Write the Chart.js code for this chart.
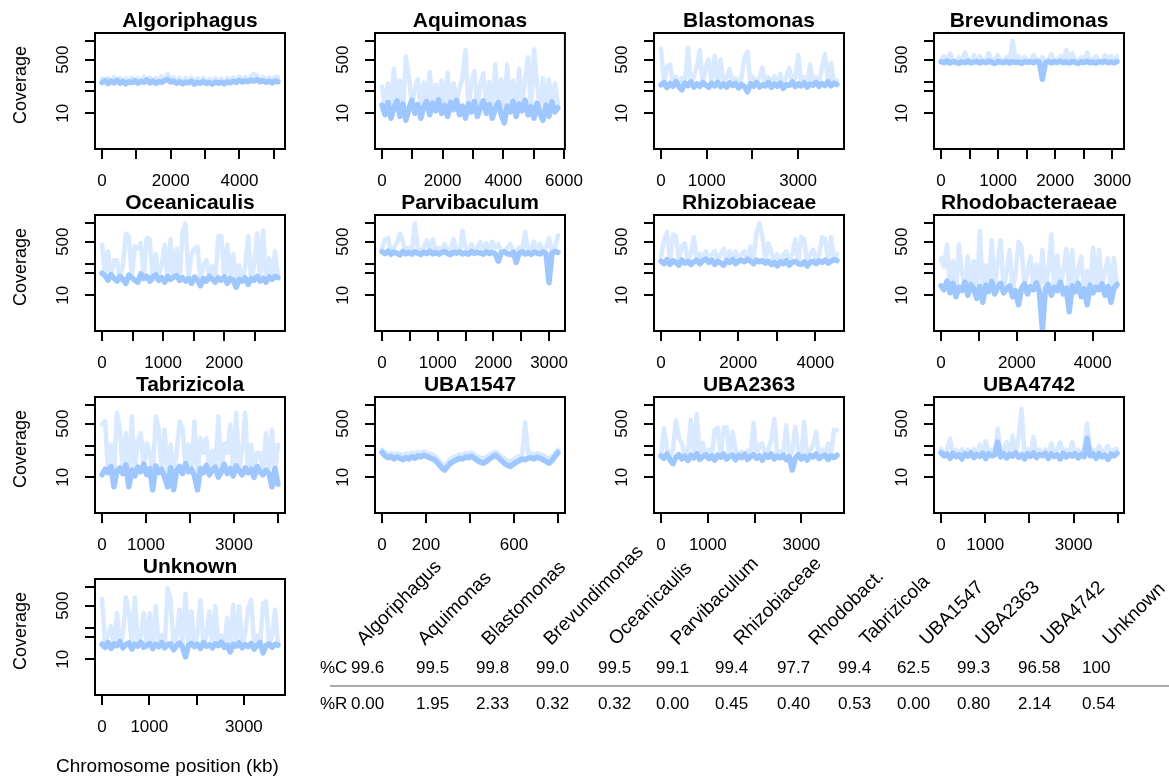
<!DOCTYPE html>
<html>
<head>
<meta charset="utf-8">
<script src="https://cdn.jsdelivr.net/npm/chart.js@4.4.1/dist/chart.umd.min.js"></script>
<style>
body { margin: 0; background: #fff; }
#page { position: relative; width: 1169px; height: 776px; overflow: hidden; background: #fff;
        font-family: "Liberation Sans", Arial, Helvetica, sans-serif; color: #000; }
canvas { position: absolute; }
.ttl { position: absolute; width: 300px; text-align: center; font-weight: bold; font-size: 21px; line-height: 22px; white-space: nowrap; }
.ylab { position: absolute; font-size: 18px; line-height: 20px; white-space: nowrap; transform: translate(-50%, -50%) rotate(-90deg); }
.num { position: absolute; font-size: 17px; line-height: 20px; white-space: nowrap; }
.tax { position: absolute; font-size: 19px; line-height: 19px; white-space: nowrap; transform-origin: 0 100%; transform: rotate(-45deg); }
.rule { position: absolute; left: 330px; width: 839px; top: 685px; height: 2px; background: #aaa; }
.xlab { position: absolute; left: 56px; top: 755px; font-size: 19px; line-height: 22px; white-space: nowrap; }
</style>
</head>
<body>
<div id="page"></div>
<script>
"use strict";

// Coverage along each chromosome, one panel per taxon (log y)

const taxa = ["Algoriphagus", "Aquimonas", "Blastomonas", "Brevundimonas",
              "Oceanicaulis", "Parvibaculum", "Rhizobiaceae", "Rhodobacteraeae",
              "Tabrizicola", "UBA1547", "UBA2363", "UBA4742", "Unknown"];
const genomeKb = [5120, 5800, 3850, 3080, 2880, 3160, 4560, 4640, 4000, 800, 3760, 3980, 3720];

const xTicks = [
    [0, 1000, 2000, 3000, 4000, 5000],
    [0, 1000, 2000, 3000, 4000, 5000, 6000],
    [0, 1000, 2000, 3000],
    [0, 500, 1000, 1500, 2000, 2500, 3000],
    [0, 500, 1000, 1500, 2000, 2500],
    [0, 500, 1000, 1500, 2000, 2500, 3000],
    [0, 1000, 2000, 3000, 4000],
    [0, 1000, 2000, 3000, 4000],
    [0, 1000, 2000, 3000, 4000],
    [0, 200, 400, 600, 800],
    [0, 1000, 2000, 3000],
    [0, 1000, 2000, 3000, 4000],
    [0, 1000, 2000, 3000]
];
const xTickLabels = [
    [0, 2000, 4000], [0, 2000, 4000, 6000], [0, 1000, 3000], [0, 1000, 2000, 3000],
    [0, 1000, 2000], [0, 1000, 2000, 3000], [0, 2000, 4000], [0, 2000, 4000],
    [0, 1000, 3000], [0, 200, 600], [0, 1000, 3000], [0, 1000, 3000], [0, 1000, 3000]
];
const yTicks = [10, 50, 100, 500, 2000];
const yTickLabels = [10, 500];

// window coverage: "Mean" = main band, "Max" = pale peaks
const algoriphagusMean = [95,110,88,105,92,112,90,104,86,100,94,108,90,102,96,114,92,106,88,100,96,110,118,98,104,90,100,86,98,92,104,84,96,90,102,88,94,84,98,90,96,86,100,92,104,96,110,98,106,100,114,104,118,100,108,96,104,92,106,100];
const algoriphagusMax = [125,100,130,98,140,102,130,95,128,100,135,98,130,104,145,100,138,96,132,102,150,110,175,104,138,96,132,92,130,96,135,90,128,94,132,92,126,90,130,94,128,92,132,98,138,102,145,104,142,106,155,175,160,106,145,100,140,98,142,138];

const aquimonasMean = [18,9,22,7,15,25,8,20,6,14,26,10,19,7,16,24,9,21,12,27,10,18,8,22,13,26,9,17,7,20,11,24,8,15,25,10,19,7,14,22,9,5,17,11,24,8,20,12,26,9,16,7,21,10,6,18,8,23,11,15];
const aquimonasMax = [70,15,90,12,260,20,110,14,630,150,18,60,120,12,95,25,200,14,80,22,110,16,190,12,90,25,60,140,1000,15,95,220,14,85,190,16,100,12,350,20,120,10,350,18,110,12,260,20,120,600,12,1050,85,15,130,10,115,18,90,20];

const blastomonasMean = [80,95,65,88,72,100,70,55,90,75,98,68,85,72,95,78,66,90,74,96,70,84,68,92,76,88,64,82,70,48,86,72,94,68,80,74,96,66,84,72,90,62,80,76,98,70,86,74,92,68,84,78,96,72,88,76,100,74,90,82];
const blastomonasMax = [1100,90,300,350,85,140,80,130,90,1200,85,140,300,1000,80,300,500,90,650,85,500,80,140,250,85,130,75,140,600,900,85,140,90,130,280,80,140,85,150,80,180,75,140,280,90,130,700,85,140,80,350,85,140,80,300,750,90,400,85,110];

const brevundimonasMean = [430,400,450,390,440,410,380,430,400,450,395,420,440,390,430,400,450,410,380,430,420,400,445,390,435,405,420,380,440,410,430,400,445,415,120,400,440,395,430,410,450,400,425,390,440,410,380,430,405,445,400,420,390,435,410,445,400,430,395,440];
const brevundimonasMax = [480,650,430,800,500,440,600,450,850,500,440,700,490,650,440,500,800,450,480,700,440,500,600,440,2000,460,650,430,600,480,440,700,500,450,600,430,480,750,440,500,650,450,1000,430,800,460,440,600,480,850,440,500,650,430,470,700,450,650,440,650];

const oceanicaulisMean = [50,42,30,45,35,28,40,32,24,44,36,30,26,48,34,40,28,38,44,30,36,26,40,32,38,42,30,36,28,34,24,38,30,20,34,28,40,32,26,36,30,38,24,34,30,18,32,28,36,22,34,30,40,28,34,26,38,32,40,36];
const oceanicaulisMax = [400,40,250,35,130,130,30,90,900,750,35,350,300,450,35,650,600,30,200,40,90,400,30,600,35,300,28,1000,1900,35,200,300,350,30,90,130,35,85,30,750,750,35,400,30,200,25,90,30,80,750,30,90,900,35,1100,30,150,35,250,40];

const parvibaculumMean = [240,210,250,200,235,215,190,245,205,230,200,240,215,195,235,210,250,205,230,200,225,245,210,195,235,215,240,205,220,200,245,210,230,215,200,240,210,230,205,120,225,240,210,195,230,110,215,240,205,225,200,235,215,205,240,210,25,220,245,230];
const parvibaculumMax = [300,600,650,230,320,450,900,500,230,320,240,1900,320,230,330,550,240,600,230,320,240,420,230,320,600,240,230,1100,320,240,420,230,330,480,240,450,230,500,320,420,240,230,320,420,240,230,330,240,1000,230,320,500,240,420,230,320,650,240,300,800];

const rhizobiaceaeMean = [120,100,135,95,125,110,90,130,105,120,95,115,130,100,125,140,110,130,95,120,105,90,125,110,135,100,120,130,115,140,120,100,130,115,125,105,120,95,110,85,115,100,125,90,110,120,100,95,115,85,110,120,100,125,110,130,105,120,135,125];
const rhizobiaceaeMax = [170,550,1000,120,850,750,130,350,450,120,200,700,125,210,120,250,130,200,250,120,200,300,125,250,130,250,120,200,250,130,350,120,1000,1900,700,125,450,230,120,200,110,190,250,120,200,600,115,700,600,110,200,280,120,190,700,600,125,700,140,200];

const rhodobacteraeaeMean = [20,15,28,12,24,9,18,14,26,10,22,16,8,19,6,21,13,27,11,18,24,12,16,20,9,14,5,17,23,11,19,15,25,12,0.8,16,22,10,18,14,26,11,17,3,20,13,24,9,16,5,21,12,18,15,23,10,19,6,17,22];
const rhodobacteraeaeMax = [150,80,400,15,120,12,400,55,18,170,15,120,12,1100,20,90,15,550,14,120,550,15,60,270,14,50,500,350,18,60,170,15,95,14,270,18,60,850,15,180,20,60,300,14,270,15,60,170,12,60,18,320,14,270,18,60,150,12,150,18];

const tabrizicolaMean = [12,18,14,22,5,16,20,13,25,5,17,11,21,15,26,12,19,4,23,14,18,10,5,20,4,16,22,13,27,15,18,11,4,19,14,24,12,17,21,10,15,26,13,19,11,23,16,12,20,14,18,10,22,15,12,17,13,5,19,6];
const tabrizicolaMax = [470,590,18,107,12,1100,320,15,250,12,850,14,137,250,16,120,60,10,850,365,18,320,12,107,10,60,590,365,20,107,15,590,12,175,60,175,14,70,16,850,12,120,60,470,14,1100,18,70,1100,14,107,16,60,58,14,250,18,320,15,107];

const uba1547Mean = [62,48,42,46,38,44,40,36,42,38,45,40,48,44,50,46,42,38,34,26,20,17,22,28,32,36,40,38,44,42,46,40,34,30,28,32,38,44,50,42,34,28,24,22,26,30,34,38,36,40,42,38,44,40,36,32,28,34,46,60];
const uba1547Max = [75,62,55,60,52,58,54,50,56,52,60,54,64,58,66,60,56,52,46,36,28,24,30,38,44,48,54,52,58,56,62,54,46,42,40,44,52,58,66,56,46,40,34,32,36,42,46,52,550,56,58,52,58,54,50,44,40,46,60,75];

const uba2363Mean = [48,40,55,36,27,44,52,38,47,34,50,41,56,37,45,52,39,48,35,50,43,55,38,46,51,36,49,42,54,37,46,52,40,48,35,51,43,55,38,47,41,50,36,45,17,40,52,38,47,35,49,44,55,39,46,51,37,48,42,50];
const uba2363Max = [50,350,81,45,75,640,170,118,45,65,660,50,1000,45,125,45,75,40,320,375,48,375,375,45,275,72,45,65,45,70,40,530,48,105,118,42,75,160,710,45,65,50,445,45,65,390,70,45,565,42,70,105,275,45,75,48,118,50,320,310];

const uba4742Mean = [60,48,55,40,58,45,52,38,56,47,60,42,53,46,58,39,55,48,51,130,44,57,41,54,47,60,43,52,38,56,46,59,42,53,48,57,40,55,45,51,38,58,44,53,47,56,41,52,45,170,48,55,40,57,44,51,37,54,48,58];
const uba4742Max = [80,55,75,170,50,75,48,78,55,75,50,80,48,110,55,140,50,75,52,350,48,75,130,50,210,55,180,1480,50,78,48,190,55,75,50,78,45,120,52,75,125,50,75,48,135,52,75,50,80,500,52,75,48,100,55,75,100,50,75,80];

const unknownMean = [30,24,34,22,31,27,36,23,29,33,21,30,26,35,24,28,32,22,30,25,34,23,29,31,20,27,33,24,12,28,32,25,30,22,34,26,29,23,31,27,35,24,28,17,30,26,33,23,29,25,32,21,28,34,16,27,31,24,30,28];
const unknownMax = [810,30,55,112,25,295,30,60,930,295,28,930,30,55,295,25,295,30,475,28,60,25,1800,775,28,55,375,25,1190,30,330,28,60,740,30,55,330,25,475,30,55,28,205,25,535,30,475,28,60,425,775,30,55,25,600,675,30,55,375,30];

const meanSeries = [algoriphagusMean, aquimonasMean, blastomonasMean, brevundimonasMean,
                    oceanicaulisMean, parvibaculumMean, rhizobiaceaeMean, rhodobacteraeaeMean,
                    tabrizicolaMean, uba1547Mean, uba2363Mean, uba4742Mean, unknownMean];
const maxSeries = [algoriphagusMax, aquimonasMax, blastomonasMax, brevundimonasMax,
                   oceanicaulisMax, parvibaculumMax, rhizobiaceaeMax, rhodobacteraeaeMax,
                   tabrizicolaMax, uba1547Max, uba2363Max, uba4742Max, unknownMax];

// summary table under the panels
const tableNames = ["Algoriphagus", "Aquimonas", "Blastomonas", "Brevundimonas", "Oceanicaulis",
                    "Parvibaculum", "Rhizobiaceae", "Rhodobact.", "Tabrizicola", "UBA1547",
                    "UBA2363", "UBA4742", "Unknown"];
const pctC = ["99.6", "99.5", "99.8", "99.0", "99.5", "99.1", "99.4", "97.7", "99.4", "62.5", "99.3", "96.58", "100"];
const pctR = ["0.00", "1.95", "2.33", "0.32", "0.32", "0.00", "0.45", "0.40", "0.53", "0.00", "0.80", "2.14", "0.54"];


const FONT = '"Liberation Sans", Arial, Helvetica, sans-serif';
const boxLeft = [95, 375, 654, 934];
const boxTop = [33, 215, 397, 579];
const BOX_W = 190, BOX_H = 116;
const page = document.getElementById("page");

function addDiv(cls, text, left, top) {
    let d = document.createElement("div");
    d.className = cls;
    d.textContent = text;
    d.style.left = left + "px";
    d.style.top = top + "px";
    page.appendChild(d);
    return d;
}

const boxBorder = {
    id: "boxBorder",
    afterDraw(chart) {
        let a = chart.chartArea;
        let ctx = chart.ctx;
        ctx.save();
        ctx.strokeStyle = "#000";
        ctx.lineWidth = 2;
        ctx.strokeRect(a.left, a.top, a.right - a.left, a.bottom - a.top);
        ctx.restore();
    }
};

function toPoints(arr, len) {
    return arr.map((v, i) => ({x: i * len / (arr.length - 1), y: v}));
}

taxa.forEach(function(name, p) {
    let col = p % 4, row = Math.floor(p / 4);
    let bx = boxLeft[col], by = boxTop[row];
    let len = genomeKb[p];

    let cv = document.createElement("canvas");
    cv.width = 290; cv.height = 186;
    cv.style.width = "290px"; cv.style.height = "186px";
    cv.style.left = (bx - 70) + "px";
    cv.style.top = (by - 20) + "px";
    page.appendChild(cv);

    addDiv("ttl", name, bx + BOX_W / 2 - 150, by - 24);
    if (col === 0) {
        addDiv("ylab", "Coverage", 20, by + BOX_H / 2 - 6);
    }

    let tickFont = {family: FONT, size: 17};
    new Chart(cv, {
        type: "line",
        data: {
            datasets: [
                {data: toPoints(meanSeries[p], len), borderColor: "rgb(158,199,255)", borderWidth: 5.5,
                 pointRadius: 0, borderJoinStyle: "round", borderCapStyle: "round", order: 0},
                {data: toPoints(maxSeries[p], len), borderColor: "rgba(160,200,255,0.4)", borderWidth: 4.5,
                 pointRadius: 0, borderJoinStyle: "round", borderCapStyle: "round", order: 1}
            ]
        },
        options: {
            responsive: false,
            animation: false,
            devicePixelRatio: 1,
            events: [],
            layout: {padding: {left: 10, top: 20, right: 30, bottom: 0}},
            plugins: {legend: {display: false}, tooltip: {enabled: false}},
            scales: {
                x: {
                    type: "linear",
                    bounds: "data",
                    min: -0.04 * len,
                    max: 1.04 * len,
                    afterBuildTicks: s => { s.ticks = xTicks[p].map(v => ({value: v})); },
                    afterFit: s => { s.height = 50; },
                    border: {display: false},
                    grid: {drawOnChartArea: false, drawTicks: true, tickLength: 10, color: "#000", lineWidth: 2},
                    ticks: {
                        autoSkip: false, maxRotation: 0, color: "#000", font: tickFont, padding: 12,
                        callback: v => xTickLabels[p].includes(v) ? String(v) : ""
                    }
                },
                y: {
                    type: "logarithmic",
                    bounds: "data",
                    min: 0.74,
                    max: 3500,
                    afterBuildTicks: s => { s.ticks = yTicks.map(v => ({value: v})); },
                    afterFit: s => { s.width = 60; },
                    border: {display: false},
                    grid: {drawOnChartArea: false, drawTicks: true, tickLength: 10, color: "#000", lineWidth: 2},
                    ticks: {
                        autoSkip: false, minRotation: 90, maxRotation: 90, crossAlign: "center",
                        color: "#000", font: tickFont, padding: 8,
                        callback: v => yTickLabels.includes(v) ? String(v) : ""
                    }
                }
            }
        },
        plugins: [boxBorder]
    });
});

// table
const numLeft = [351, 416, 476, 536, 598, 656, 715, 777, 838, 897, 957, 1018, 1082];
const nameLeft = [366, 427, 491, 553, 618, 680, 743, 818, 869, 929, 985, 1050, 1112];
addDiv("num", "%C", 320, 658);
addDiv("num", "%R", 320, 694);
tableNames.forEach(function(n, i) {
    addDiv("tax", n, nameLeft[i], 629);
    addDiv("num", pctC[i], numLeft[i], 658);
    addDiv("num", pctR[i], numLeft[i], 694);
});
let rule = document.createElement("div");
rule.className = "rule";
page.appendChild(rule);
addDiv("xlab", "Chromosome position (kb)", 56, 755);
</script>
</body>
</html>
